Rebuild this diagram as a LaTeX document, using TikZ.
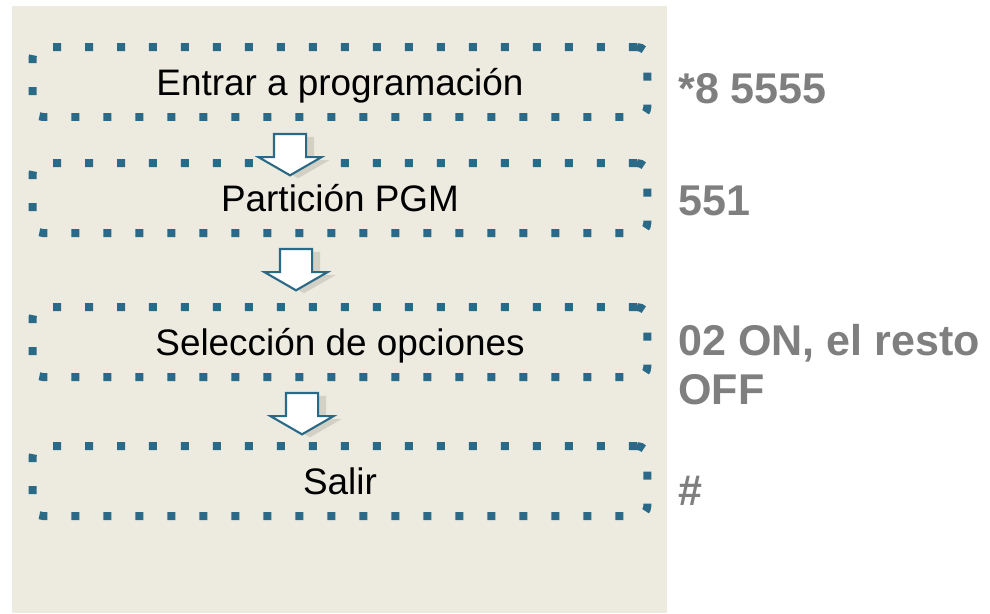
\documentclass[tikz,border=0pt]{standalone}
\usepackage{fontspec}
\setmainfont{Liberation Sans}
\usetikzlibrary{shapes.geometric, shapes.arrows, shadows, positioning}
\definecolor{panelbeige}{HTML}{EDEAE0}
\definecolor{dotteal}{HTML}{2A6A86}
\definecolor{labelgray}{HTML}{7F7F7F}
\definecolor{arrowshadow}{HTML}{D3D0C6}
\tikzset{
    mybox/.style = {
        rectangle,
        rounded corners=6pt,
        draw=dotteal,
        line width=0.16cm,
        dash pattern=on 0.16cm off 0.48cm,
        minimum width=12.3cm,
        minimum height=1.4cm,
        text height=15pt,
        text depth=0pt,
        align=center,
        font=\fontsize{21}{25}\selectfont
    },
    myarrow/.style = {
        single arrow,
        draw=dotteal,
        fill=white,
        line width=1.2pt,
        minimum height=0.68cm,
        inner sep=0.3cm,
        single arrow head extend=0.31cm,
        single arrow tip angle=120,
        shape border rotate=270,
        drop shadow={shadow xshift=0.16cm, shadow yshift=-0.06cm,
                     fill=arrowshadow, opacity=1}
    },
    mylabel/.style = {
        anchor=base west,
        inner sep=0pt,
        text=labelgray,
        align=left,
        font=\bfseries\fontsize{24.5}{27.8}\selectfont
    }
}
\begin{document}
\begin{tikzpicture}[x=0.02cm, y=-0.02cm]
\useasboundingbox (0,0) rectangle (990,613);

% Fondo
\fill[panelbeige] (12,6) rectangle (667,613);

% Definiendo los nodos
\node (entrar) [mybox] at (340,82) {Entrar a programación};
\node (particion) [mybox] at (340,198) {Partición PGM};
\node (seleccion) [mybox] at (340,342) {Selección de opciones};
\node (salir) [mybox] at (340,481) {Salir};

% Flechas entre pasos
\node (flechaA) [myarrow] at (290,150) {};
\node (flechaB) [myarrow] at (296,265) {};
\node (flechaC) [myarrow] at (302,409) {};

% Codigos a la derecha
\node (codA) [mylabel] at (678,103) {*8 5555};
\node (codB) [mylabel] at (678,215) {551};
\node (codC) [mylabel] at (678,404) {02 ON, el resto\\OFF};
\node (codD) [mylabel] at (678,505) {\#};

\end{tikzpicture}
\end{document}
